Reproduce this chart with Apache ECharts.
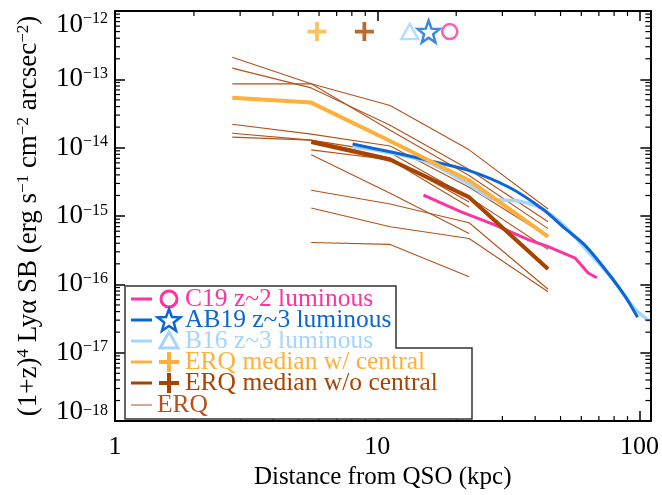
<!DOCTYPE html>
<html>
<head>
<meta charset="utf-8">
<script src="https://cdn.jsdelivr.net/npm/echarts@6/dist/echarts.min.js"></script>
<style>
    html, body { margin: 0; padding: 0; background: #fff; }
    #main { width: 662px; height: 495px; }
</style>
</head>
<body>
<div id="main"></div>
<script>
// radial bins of the ERQ profiles (kpc)
var erqR = [2.8, 5.6, 11.2, 22.4, 44.8];
// single ERQ profiles, (1+z)^4 SB in erg/s/cm2/arcsec2 (null = no point)
var erqSB = [
    [2.10e-13, 8.6e-14, 4.14e-14, 9.3e-15, 1.27e-15],
    [1.46e-13, 7.5e-14, 2.13e-14, 4.79e-15, 8.24e-16],
    [8.6e-14, 8.6e-14, 1.80e-14, 3.93e-15, 6.54e-16],
    [2.20e-14, 1.58e-14, 1.06e-14, 2.64e-15, 5.01e-16],
    [1.63e-14, 1.29e-14, 8.41e-15, 1.89e-15, 3.26e-16],
    [1.43e-14, 1.29e-14, 7.13e-15, 1.60e-15, null],
    [null, 9.3e-15, 6.67e-15, 1.36e-15, null],
    [null, 7.87e-15, 2.16e-15, 5.54e-16, null],
    [null, 2.39e-15, 1.50e-15, 7.98e-16, 8.5e-17],
    [null, 1.31e-15, 6.99e-16, 4.69e-16, 7.8e-17],
    [null, 4.11e-16, 3.85e-16, 1.29e-16, null]
];
var medWith = [5.40e-14, 4.57e-14, 1.25e-14, 3.32e-15, 5.01e-16];
var medWithout = [null, 1.21e-14, 6.67e-15, 1.89e-15, 1.68e-16];

var ab19R = [8.05, 11.2, 15.8, 22.4, 31.8, 42.7, 52.1, 62.0, 73.8, 87.8, 98.3];
var ab19SB = [1.13e-14, 8.70e-15, 6.46e-15, 4.63e-15, 2.64e-15, 1.27e-15, 6.54e-16, 3.72e-16, 1.68e-16, 6.85e-17, 3.30e-17];
var b16R = [8.05, 11.2, 15.8, 22.4, 27.6, 34.6, 42.7, 52.1, 62.0, 77.1, 95.7, 109];
var b16SB = [1.03e-14, 8.41e-15, 6.0e-15, 2.9e-15, 1.77e-15, 1.66e-15, 1.27e-15, 6.99e-16, 3.37e-16, 1.33e-16, 4.45e-17, 2.89e-17];
var c19R = [15.0, 20.9, 27.9, 37.5, 44.6, 56.9, 63.7, 68.8];
var c19SB = [2.02e-15, 1.15e-15, 7.47e-16, 4.54e-16, 3.60e-16, 2.42e-16, 1.47e-16, 1.25e-16];

// characteristic radius of each sample, drawn as symbols near the top
var markerR = [5.89, 8.93, 13.3, 15.7, 18.9];
var markerSB = [5e-13, 5e-13, 5e-13, 5e-13, 5e-13];

var xLabels = [1, 10, 100];

var UNIT = 1e-18; // plot in units of 1e-18 (log axis rounds tiny numbers)
var FONT = '"Liberation Serif", "DejaVu Serif", serif';
var PINK = '#ff33a0', BLUE = '#0b66d8', LBLUE = '#a3d5ff', ORANGE = '#ffb03b', DARK = '#a84300', ERQC = '#b4521a';

function pairs(rs, sbs) {
    var out = [];
    for (var i = 0; i < rs.length; i++) {
        if (sbs[i] != null) out.push([rs[i], sbs[i] / UNIT]);
    }
    return out;
}

function starPoints(cx, cy, ro, ri) {
    var pts = [];
    for (var i = 0; i < 10; i++) {
        var a = -Math.PI / 2 + i * Math.PI / 5;
        var r = i % 2 ? ri : ro;
        pts.push([cx + r * Math.cos(a), cy + r * Math.sin(a)]);
    }
    return pts;
}
var starPath = 'path://' + starPoints(12, 12, 12, 5).map(function (p, i) {
    return (i ? 'L' : 'M') + p[0].toFixed(2) + ',' + p[1].toFixed(2);
}).join('') + 'Z';
var plusPath = 'path://M8,0H12V8H20V12H12V20H8V12H0V8H8Z';

var series = [];
erqSB.forEach(function (p) {
    series.push({
        type: 'line', data: pairs(erqR, p), showSymbol: false, symbol: 'none',
        lineStyle: { color: ERQC, width: 1.1 }, z: 2
    });
});
function curve(rs, sbs, color, w, smooth) {
    return {
        type: 'line', data: pairs(rs, sbs), symbol: 'none', smooth: smooth || false,
        lineStyle: { color: color, width: w }, z: 3
    };
}
series.push(curve(c19R, c19SB, PINK, 3));
series.push(curve(b16R, b16SB, LBLUE, 3.5, 0.3));
series.push(curve(ab19R, ab19SB, BLUE, 3, 0.3));
series.push(curve(erqR, medWith, ORANGE, 4));
series.push(curve(erqR, medWithout, DARK, 4));

function marker(i, symbol, size, style) {
    return {
        type: 'scatter', data: [[markerR[i], markerSB[i] / UNIT]],
        symbol: symbol, symbolSize: size, itemStyle: style, z: 4
    };
}
series.push(marker(0, plusPath, 19, { color: ORANGE }));
series.push(marker(1, plusPath, 19, { color: DARK }));
series.push(marker(2, 'triangle', [17, 15], { color: 'rgba(0,0,0,0)', borderColor: LBLUE, borderWidth: 2.5 }));
series.push(marker(3, starPath, 22, { color: 'rgba(0,0,0,0)', borderColor: BLUE, borderWidth: 2.5 }));
series.push(marker(4, 'circle', 15, { color: 'rgba(0,0,0,0)', borderColor: PINK, borderWidth: 2.5 }));

// log minor ticks (2..9 in each decade), drawn on all four sides
var xMinor = [], yMinor = [];
for (var d = 0; d < 3; d++) {
    for (var k = 2; k <= 9; k++) {
        if (k * Math.pow(10, d) < 110) xMinor.push([k * Math.pow(10, d), 1]);
    }
}
for (var d2 = 0; d2 < 6; d2++) {
    for (var k2 = 2; k2 <= 9; k2++) yMinor.push([1, k2 * Math.pow(10, d2)]);
}
var tickStyle = { stroke: '#000', lineWidth: 1.2 };
series.push({
    type: 'custom', data: xMinor, silent: true, z: 5,
    renderItem: function (params, api) {
        var cs = params.coordSys;
        var x = api.coord([api.value(0), api.value(1)])[0];
        return { type: 'group', children: [
            { type: 'line', shape: { x1: x, y1: cs.y + cs.height, x2: x, y2: cs.y + cs.height - 5 }, style: tickStyle },
            { type: 'line', shape: { x1: x, y1: cs.y, x2: x, y2: cs.y + 5 }, style: tickStyle }
        ]};
    }
});
series.push({
    type: 'custom', data: yMinor, silent: true, z: 5,
    renderItem: function (params, api) {
        var cs = params.coordSys;
        var y = api.coord([api.value(0), api.value(1)])[1];
        return { type: 'group', children: [
            { type: 'line', shape: { x1: cs.x, y1: y, x2: cs.x + 5, y2: y }, style: tickStyle },
            { type: 'line', shape: { x1: cs.x + cs.width, y1: y, x2: cs.x + cs.width - 5, y2: y }, style: tickStyle }
        ]};
    }
});

// legend drawn by hand: line + symbol + coloured text
var legendRows = [
    { text: 'C19 z~2 luminous', color: PINK, sym: 'circle' },
    { text: 'AB19 z~3 luminous', color: BLUE, sym: 'star' },
    { text: 'B16 z~3 luminous', color: LBLUE, sym: 'triangle' },
    { text: 'ERQ median w/ central', color: ORANGE, sym: 'plus' },
    { text: 'ERQ median w/o central', color: DARK, sym: 'plus' },
    { text: 'ERQ', color: ERQC, sym: null }
];
var rowY = [299, 320, 341, 362, 383, 405];
var graphic = [{
    type: 'polygon', z: 10,
    shape: { points: [[125, 286], [396, 286], [396, 348], [472, 348], [472, 419], [125, 419]] },
    style: { fill: '#fff', stroke: '#333', lineWidth: 1.5 }
}];
legendRows.forEach(function (r, i) {
    var y = rowY[i], sx = 169;
    var thin = r.sym == null;
    graphic.push({ type: 'line', z: 11, shape: { x1: 131, y1: y, x2: 152, y2: y },
        style: { stroke: thin ? '#c98f6c' : r.color, lineWidth: thin ? 1.5 : 3 } });
    if (r.sym === 'circle') {
        graphic.push({ type: 'circle', z: 11, shape: { cx: sx, cy: y, r: 8 },
            style: { fill: 'none', stroke: r.color, lineWidth: 3 } });
    } else if (r.sym === 'star') {
        graphic.push({ type: 'polygon', z: 11, shape: { points: starPoints(sx, y + 1, 12, 5) },
            style: { fill: 'none', stroke: r.color, lineWidth: 2.5 } });
    } else if (r.sym === 'triangle') {
        graphic.push({ type: 'polygon', z: 11, shape: { points: [[sx, y - 9], [sx + 9, y + 7], [sx - 9, y + 7]] },
            style: { fill: 'none', stroke: r.color, lineWidth: 3 } });
    } else if (r.sym === 'plus') {
        graphic.push({ type: 'line', z: 11, shape: { x1: sx - 10, y1: y, x2: sx + 10, y2: y }, style: { stroke: r.color, lineWidth: 4 } });
        graphic.push({ type: 'line', z: 11, shape: { x1: sx, y1: y - 10, x2: sx, y2: y + 10 }, style: { stroke: r.color, lineWidth: 4 } });
    }
    graphic.push({ type: 'text', z: 11, x: thin ? 157 : 185, y: y,
        style: { text: r.text, fill: r.color, font: '25.5px ' + FONT, verticalAlign: 'middle' } });
});

var tickSup = { fontSize: 16, fontFamily: FONT, verticalAlign: 'top', lineHeight: 16, color: '#000' };
var nameSup = { fontSize: 17, fontFamily: FONT, verticalAlign: 'top', lineHeight: 17, color: '#000' };
var axisBase = {
    type: 'log', logBase: 10,
    axisLine: { lineStyle: { color: '#000', width: 2 } },
    axisTick: { inside: true, length: 10, lineStyle: { color: '#000', width: 1.5 } },
    splitLine: { show: false }
};

var myChart = echarts.init(document.getElementById('main'), null, { renderer: 'canvas' });
var option = {
    animation: false,
    backgroundColor: '#fff',
    grid: { left: 115, right: 7, top: 11, bottom: 67 },
    xAxis: [
        echarts.util.merge({
            position: 'bottom', min: 1, max: 110,
            axisLabel: {
                margin: 13, color: '#000', fontFamily: FONT, fontSize: 26,
                formatter: function (v) {
                    return xLabels.indexOf(Math.round(v)) >= 0 && Math.abs(v - Math.round(v)) < 1e-6 ? String(Math.round(v)) : '';
                }
            },
            name: 'Distance from QSO (kpc)', nameLocation: 'middle', nameGap: 43,
            nameTextStyle: { color: '#000', fontFamily: FONT, fontSize: 25 }
        }, axisBase, true),
        echarts.util.merge({ position: 'top', min: 1, max: 110, axisLabel: { show: false } }, axisBase, true)
    ],
    yAxis: [
        echarts.util.merge({
            position: 'left', min: 1, max: 1e6, splitNumber: 6,
            axisLabel: {
                margin: 7, color: '#000',
                verticalAlignMaxLabel: 'top', verticalAlignMinLabel: 'bottom',
                formatter: function (v) {
                    var e = Math.round(Math.log(v) / Math.LN10);
                    return '{' + (e === 0 ? 'bl' : 'b') + '|10}{s|\u2212' + (18 - e) + '}';
                },
                rich: {
                    b: { fontSize: 27, fontFamily: FONT, color: '#000', lineHeight: 27 },
                    bl: { fontSize: 27, fontFamily: FONT, color: '#000', lineHeight: 18 },
                    s: tickSup
                }
            },
            name: '(1+z){s|4} Ly\u03b1 SB (erg s{s|\u22121} cm{s|\u22122} arcsec{s|\u22122})',
            nameLocation: 'middle', nameGap: 72, nameRotate: 90,
            nameTextStyle: { color: '#000', fontFamily: FONT, fontSize: 27, lineHeight: 28,
                rich: { s: nameSup } }
        }, axisBase, true),
        echarts.util.merge({ position: 'right', min: 1, max: 1e6, splitNumber: 6, axisLabel: { show: false } }, axisBase, true)
    ],
    series: series,
    graphic: graphic
};
myChart.setOption(option);
</script>
</body>
</html>
